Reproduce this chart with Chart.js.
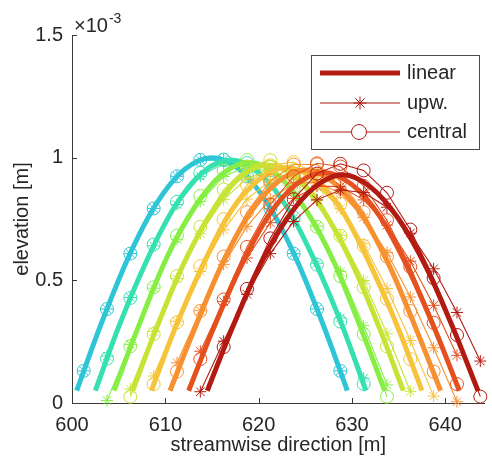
<!DOCTYPE html>
<html>
<head>
<meta charset="utf-8">
<script src="https://cdn.jsdelivr.net/npm/chart.js@4/dist/chart.umd.min.js"></script>
<style>
  html, body { margin: 0; padding: 0; background: #fff; }
  #wrap { width: 492px; height: 463px; }
</style>
</head>
<body>
<div id="wrap"><canvas id="c" width="492" height="463"></canvas></div>
<script>
// Bed-form hump advected downstream: 8 snapshots, three schemes.
// Elevations are in units of 1e-3 m (axis shows the x10^-3 multiplier).

const xTickValues = [600, 610, 620, 630, 640];
const xTickLabels = ['600', '610', '620', '630', '640'];
const yTickValues = [0, 0.5, 1, 1.5];
const yTickLabels = ['0', '0.5', '1', '1.5'];

const snapshotColors = ['#2ec6d6', '#36e0b0', '#86ee44', '#c6e436', '#f6c43a', '#f79030', '#e4501e', '#b21a12'];

// grid nodes of the numerical schemes [m]
const stations = [601.25, 603.75, 606.25, 608.75, 611.25, 613.75, 616.25, 618.75, 621.25,
                  623.75, 626.25, 628.75, 631.25, 633.75, 636.25, 638.75, 641.25, 643.75];

// "linear" solution, one row per snapshot: stations [m] and elevations
const linearX = [
  [600.5, 603, 606, 609, 612, 615, 618, 621, 624, 627, 629.5],
  [602.5, 605, 608, 611, 614, 617, 620, 623, 626, 629, 631.5],
  [604.5, 607, 610, 613, 616, 619, 622, 625, 628, 631, 633.5],
  [606.5, 609, 612, 615, 618, 621, 624, 627, 630, 633, 635.5],
  [608.5, 611, 614, 617, 620, 623, 626, 629, 632, 635, 637.5],
  [610.5, 613, 616, 619, 622, 625, 628, 631, 634, 637, 639.5],
  [612.5, 615, 618, 621, 624, 627, 630, 633, 636, 639, 641.5],
  [614.5, 617, 620, 623, 626, 629, 632, 635, 638, 641, 643.5]
];
const linearY = [
  [0.05, 0.31, 0.59, 0.81, 0.95, 1.00, 0.95, 0.81, 0.59, 0.31, 0.05],
  [0.05, 0.31, 0.58, 0.80, 0.94, 0.99, 0.94, 0.80, 0.58, 0.31, 0.05],
  [0.05, 0.30, 0.58, 0.79, 0.93, 0.98, 0.93, 0.79, 0.58, 0.30, 0.05],
  [0.05, 0.30, 0.57, 0.78, 0.92, 0.97, 0.92, 0.78, 0.57, 0.30, 0.05],
  [0.05, 0.30, 0.56, 0.78, 0.91, 0.96, 0.91, 0.78, 0.56, 0.30, 0.05],
  [0.05, 0.29, 0.56, 0.77, 0.90, 0.95, 0.90, 0.77, 0.56, 0.29, 0.05],
  [0.05, 0.29, 0.55, 0.76, 0.89, 0.94, 0.89, 0.76, 0.55, 0.29, 0.05],
  [0.05, 0.29, 0.55, 0.75, 0.88, 0.93, 0.88, 0.75, 0.55, 0.29, 0.05]
];

// first-order upwind scheme, values at `stations` (null = not plotted)
const upwindY = [
  [0.131, 0.383, 0.609, 0.793, 0.924, 0.991, 0.991, 0.924, 0.793, 0.609, 0.383, 0.131, null, null, null, null, null, null],
  [null, 0.191, 0.430, 0.641, 0.809, 0.924, 0.977, 0.965, 0.889, 0.754, 0.570, 0.347, 0.101, null, null, null, null, null],
  [null, 0.010, 0.239, 0.468, 0.667, 0.821, 0.923, 0.964, 0.943, 0.860, 0.721, 0.536, 0.315, 0.074, null, null, null, null],
  [null, null, 0.057, 0.291, 0.507, 0.690, 0.829, 0.916, 0.945, 0.914, 0.825, 0.683, 0.499, 0.282, 0.048, null, null, null],
  [null, null, null, 0.110, 0.333, 0.536, 0.706, 0.831, 0.906, 0.924, 0.885, 0.792, 0.649, 0.467, 0.255, 0.028, null, null],
  [null, null, null, null, 0.164, 0.376, 0.565, 0.720, 0.832, 0.894, 0.901, 0.855, 0.756, 0.613, 0.432, 0.225, 0.005, null],
  [null, null, null, null, null, 0.211, 0.413, 0.591, 0.735, 0.834, 0.884, 0.882, 0.828, 0.725, 0.578, 0.398, 0.194, null],
  [null, null, null, null, null, 0.046, 0.252, 0.443, 0.609, 0.740, 0.828, 0.868, 0.858, 0.798, 0.692, 0.547, 0.369, 0.171]
];

// central scheme, values at `stations`
const centralY = [
  [0.131, 0.383, 0.609, 0.793, 0.924, 0.991, 0.991, 0.924, 0.793, 0.609, 0.383, 0.131, null, null, null, null, null, null],
  [null, 0.181, 0.428, 0.646, 0.820, 0.938, 0.992, 0.978, 0.898, 0.757, 0.564, 0.332, 0.078, null, null, null, null, null],
  [null, null, 0.231, 0.472, 0.682, 0.844, 0.949, 0.990, 0.963, 0.870, 0.718, 0.517, 0.281, 0.026, null, null, null, null],
  [null, null, 0.026, 0.281, 0.517, 0.718, 0.870, 0.963, 0.990, 0.949, 0.844, 0.682, 0.472, 0.231, null, null, null, null],
  [null, null, null, 0.077, 0.329, 0.558, 0.749, 0.889, 0.969, 0.982, 0.929, 0.812, 0.640, 0.424, 0.179, null, null, null],
  [null, null, null, null, 0.128, 0.375, 0.597, 0.778, 0.905, 0.972, 0.972, 0.905, 0.778, 0.597, 0.375, 0.128, null, null],
  [null, null, null, null, null, 0.179, 0.422, 0.636, 0.808, 0.924, 0.977, 0.964, 0.885, 0.745, 0.555, 0.327, 0.077, null],
  [null, null, null, null, null, null, 0.228, 0.465, 0.671, 0.831, 0.935, 0.975, 0.948, 0.857, 0.707, 0.509, 0.277, 0.026]
];

const legendLabels = ['linear', 'upw.', 'central'];

const FONT = "'Liberation Sans', Arial, Helvetica, sans-serif";
const TEXT = '#262626';
const AXIS = '#3a3a3a';

function nodePoints(row) {
  const pts = [];
  row.forEach((v, i) => { if (v !== null) pts.push({ x: stations[i], y: v }); });
  return pts;
}

const datasets = [];
snapshotColors.forEach((col, k) => {
  const base = 1000 - k * 3; // later snapshots are drawn on top
  datasets.push({
    label: legendLabels[0],
    data: linearX[k].map((x, i) => ({ x, y: linearY[k][i] })),
    borderColor: col, borderWidth: 5, pointRadius: 0,
    cubicInterpolationMode: 'monotone', order: base
  });
  datasets.push({
    label: legendLabels[1],
    data: nodePoints(upwindY[k]),
    borderColor: col, borderWidth: 1.1, tension: 0,
    pointStyle: 'star', pointRadius: 6, pointBorderWidth: 1,
    pointBorderColor: col, pointBackgroundColor: 'rgba(0,0,0,0)', order: base - 1
  });
  datasets.push({
    label: legendLabels[2],
    data: nodePoints(centralY[k]),
    borderColor: col, borderWidth: 1.1, tension: 0,
    pointStyle: 'circle', pointRadius: 6.5, pointBorderWidth: 1,
    pointBorderColor: col, pointBackgroundColor: 'rgba(0,0,0,0)', order: base - 2
  });
});

function drawStar(ctx, x, y, r) {
  ctx.beginPath();
  for (let a = 0; a < 4; a++) {
    const t = a * Math.PI / 4;
    ctx.moveTo(x - r * Math.cos(t), y - r * Math.sin(t));
    ctx.lineTo(x + r * Math.cos(t), y + r * Math.sin(t));
  }
  ctx.stroke();
}

const decorations = {
  id: 'decorations',
  afterDraw(chart) {
    const ctx = chart.ctx;
    const xs = chart.scales.x, ys = chart.scales.y;
    const area = chart.chartArea;
    ctx.save();
    // inward tick marks
    ctx.strokeStyle = AXIS;
    ctx.lineWidth = 1;
    ctx.beginPath();
    xTickValues.forEach(v => {
      const px = Math.round(xs.getPixelForValue(v)) + 0.5;
      ctx.moveTo(px, area.bottom);
      ctx.lineTo(px, area.bottom - 5);
    });
    yTickValues.forEach(v => {
      const py = Math.round(ys.getPixelForValue(v)) + 0.5;
      ctx.moveTo(area.left, py);
      ctx.lineTo(area.left + 5, py);
    });
    ctx.stroke();

    // exponent multiplier of the y axis
    ctx.fillStyle = TEXT;
    ctx.textBaseline = 'alphabetic';
    ctx.textAlign = 'left';
    ctx.font = '20px ' + FONT;
    const x0 = area.left + 2;
    ctx.fillText('\u00d710', x0, 32);
    const w = ctx.measureText('\u00d710').width;
    ctx.font = '14px ' + FONT;
    ctx.fillText('-3', x0 + w + 1, 23);

    // legend
    const lx = 311.5, ly = 55.5, lw = 168, lh = 94;
    ctx.fillStyle = '#ffffff';
    ctx.fillRect(lx, ly, lw, lh);
    ctx.strokeStyle = '#4a4a4a';
    ctx.lineWidth = 1;
    ctx.strokeRect(lx, ly, lw, lh);
    const legendColor = snapshotColors[snapshotColors.length - 1];
    const rows = [73, 103, 132];
    rows.forEach((ry, i) => {
      ctx.strokeStyle = legendColor;
      ctx.lineWidth = i === 0 ? 5 : 1;
      ctx.beginPath();
      ctx.moveTo(320, ry);
      ctx.lineTo(400, ry);
      ctx.stroke();
      ctx.lineWidth = 1;
      if (i === 1) drawStar(ctx, 360, ry, 6.5);
      if (i === 2) {
        ctx.fillStyle = '#ffffff';
        ctx.beginPath();
        ctx.arc(359, ry, 7.5, 0, Math.PI * 2);
        ctx.fill();
        ctx.stroke();
      }
      ctx.fillStyle = TEXT;
      ctx.font = '20px ' + FONT;
      ctx.textBaseline = 'middle';
      ctx.fillText(legendLabels[i], 407, ry);
    });
    ctx.restore();
  }
};

new Chart(document.getElementById('c'), {
  type: 'line',
  data: { datasets },
  options: {
    responsive: false,
    devicePixelRatio: 1,
    animation: false,
    clip: false,
    layout: { padding: { top: 35, right: 1, left: 0, bottom: 0 } },
    plugins: { legend: { display: false }, tooltip: { enabled: false } },
    scales: {
      x: {
        type: 'linear', min: 600, max: 644.2,
        grid: { display: false, drawTicks: false },
        border: { display: true, color: AXIS, width: 1 },
        afterBuildTicks: s => { s.ticks = xTickValues.map(v => ({ value: v })); },
        ticks: {
          padding: 10, maxRotation: 0, autoSkip: false,
          color: TEXT, font: { family: FONT, size: 20 },
          callback: (v, i) => xTickLabels[i]
        },
        title: {
          display: true, text: 'streamwise direction [m]', color: TEXT,
          font: { family: FONT, size: 20 }, padding: { top: 0, bottom: 6 }
        },
        afterFit: s => { s.height = 60; }
      },
      y: {
        type: 'linear', min: 0, max: 1.5,
        grid: { display: false, drawTicks: false },
        border: { display: true, color: AXIS, width: 1 },
        afterBuildTicks: s => { s.ticks = yTickValues.map(v => ({ value: v })); },
        ticks: {
          padding: 9, autoSkip: false,
          color: TEXT, font: { family: FONT, size: 20 },
          callback: (v, i) => yTickLabels[i]
        },
        title: {
          display: true, text: 'elevation [m]', color: TEXT,
          font: { family: FONT, size: 20 }, padding: { top: 10, bottom: 0 }
        },
        afterFit: s => { s.width = 72; }
      }
    }
  },
  plugins: [decorations]
});
</script>
</body>
</html>
